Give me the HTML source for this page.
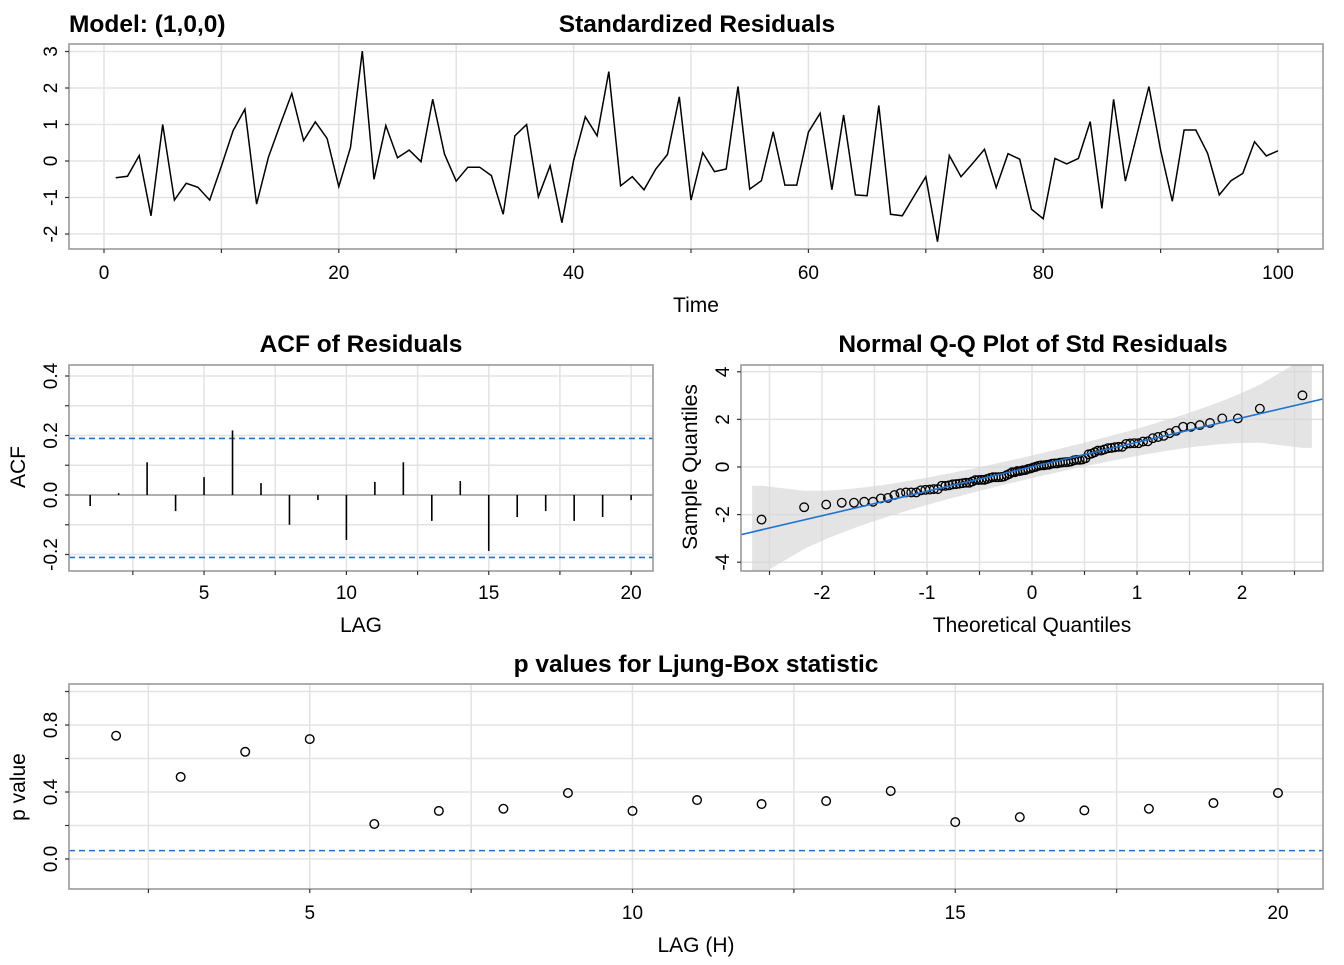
<!DOCTYPE html>
<html><head><meta charset="utf-8">
<style>
body{margin:0;background:#fff;}
svg text{font-family:"Liberation Sans",Arial,sans-serif;fill:#000;}
</style></head>
<body>
<svg id="chart" width="1344" height="960" viewBox="0 0 1344 960" xmlns="http://www.w3.org/2000/svg"></svg>
<script>
// ---- data ----
const residuals = [-0.46,-0.42,0.15,-1.5,1.0,-1.07,-0.61,-0.72,-1.07,-0.14,
0.83,1.42,-1.18,0.1,0.99,1.85,0.56,1.07,0.62,-0.7,
0.37,3.01,-0.5,0.97,0.09,0.3,-0.02,1.69,0.19,-0.55,
-0.17,-0.17,-0.4,-1.46,0.69,1.0,-0.98,-0.13,-1.69,0.01,
1.21,0.69,2.45,-0.68,-0.43,-0.79,-0.22,0.18,1.76,-1.07,
0.23,-0.29,-0.22,2.04,-0.77,-0.54,0.8,-0.66,-0.66,0.79,
1.31,-0.79,1.26,-0.93,-0.95,1.52,-1.46,-1.5,-0.96,-0.43,
-2.21,0.15,-0.43,-0.06,0.32,-0.73,0.2,0.05,-1.32,-1.58,
0.07,-0.08,0.07,1.08,-1.3,1.69,-0.55,0.74,2.04,0.3,
-1.1,0.85,0.85,0.21,-0.93,-0.54,-0.34,0.53,0.14,0.28];
const acfLags = [1,2,3,4,5,6,7,8,9,10,11,12,13,14,15,16,17,18,19,20];
const acfValues = [-0.037,0.006,0.11,-0.054,0.06,0.217,0.04,-0.10,-0.017,-0.151,0.044,0.11,-0.087,0.047,-0.188,-0.074,-0.054,-0.087,-0.074,-0.017];
const acfBounds = [0.19,-0.21];
const lbLags = [2,3,4,5,6,7,8,9,10,11,12,13,14,15,16,17,18,19,20];
const lbPValues = [0.736,0.49,0.64,0.716,0.209,0.287,0.30,0.394,0.287,0.352,0.328,0.346,0.406,0.22,0.25,0.29,0.30,0.334,0.394];
const lbAlpha = 0.05;
const timeTicks = [0,20,40,60,80,100];
const resTicks = [3,2,1,0,-1,-2];
const acfXTicks = [5,10,15,20];
const acfYTicks = [0.4,0.2,0.0,-0.2];
const qqXTicks = [-2,-1,0,1,2];
const qqYTicks = [4,2,0,-2,-4];
const lbXTicks = [5,10,15,20];
const lbYTicks = [0.8,0.4,0.0];

const NS="http://www.w3.org/2000/svg";
const svg=document.getElementById('chart');
const TICK=19, AXT=21, TTL=24.5;
function el(tag,attrs,parent){const e=document.createElementNS(NS,tag);for(const k in attrs)e.setAttribute(k,attrs[k]);(parent||svg).appendChild(e);return e;}
function txt(s,x,y,size,opts,parent){opts=opts||{};const t=el('text',{x:x,y:y,'font-size':size,'text-anchor':opts.anchor||'middle','font-weight':opts.bold?'bold':'normal'},parent);if(opts.rot)t.setAttribute('transform','rotate(-90 '+x+' '+y+')');t.textContent=s;return t;}
const GRID='#e3e3e3';

function panel(name,x0,y0,x1,y1){
  const g=el('g',{});
  
  
  const cid='clip-'+name;
  const cp=el('clipPath',{id:cid},g);el('rect',{x:x0,y:y0,width:x1-x0,height:y1-y0},cp);
  const inner=el('g',{'clip-path':'url(#'+cid+')'},g);
  return {g,inner,x0,y0,x1,y1};
}
function border(p){const r=el('rect',{x:p.x0,y:p.y0,width:p.x1-p.x0,height:p.y1-p.y0,fill:'none',stroke:'#999',"stroke-width":1.6},p.g);}
function vgrid(p,xs,sx){xs.forEach(v=>el('line',{x1:sx(v),x2:sx(v),y1:p.y0,y2:p.y1,stroke:GRID,'stroke-width':1.5},p.inner));}
function hgrid(p,ys,sy){ys.forEach(v=>el('line',{y1:sy(v),y2:sy(v),x1:p.x0,x2:p.x1,stroke:GRID,'stroke-width':1.5},p.inner));}
function xticks(p,vals,sx,ly,fmt,minor){
  const g=el('g',{},p.g);
  (minor||[]).forEach(v=>el('line',{x1:sx(v),x2:sx(v),y1:p.y1,y2:p.y1+4,stroke:'#333','stroke-width':1.2},g));
  vals.forEach(v=>{el('line',{x1:sx(v),x2:sx(v),y1:p.y1,y2:p.y1+4,stroke:'#333','stroke-width':1.2},g);txt(fmt?fmt(v):String(v),sx(v),ly,TICK,{},g);});
}
function yticks(p,vals,sy,lx,fmt,minor){
  const g=el('g',{},p.g);
  (minor||[]).forEach(v=>el('line',{y1:sy(v),y2:sy(v),x1:p.x0-4,x2:p.x0,stroke:'#333','stroke-width':1.2},g));
  vals.forEach(v=>{el('line',{y1:sy(v),y2:sy(v),x1:p.x0-4,x2:p.x0,stroke:'#333','stroke-width':1.2},g);txt(fmt?fmt(v):String(v),lx,sy(v),TICK,{rot:true},g);});
}
function range(a,b,s){const r=[];for(let v=a;v<=b+1e-9;v+=s)r.push(Math.round(v*1000)/1000);return r;}

// ---- Titles ----
let t=txt('Model: (1,0,0)',69,32,TTL,{anchor:'start',bold:true});
t=txt('Standardized Residuals',697,32,TTL,{bold:true});
t=txt('ACF of Residuals',361,352,TTL,{bold:true});
t=txt('Normal Q-Q Plot of Std Residuals',1033,352,TTL,{bold:true});
t=txt('p values for Ljung-Box statistic',696,672,TTL,{bold:true});

// ---- Panel 1: residuals ----
(function(){
  const p=panel('residuals-panel',69,44,1323,249);
  const sx=v=>104+v*11.74, sy=v=>161-v*36.5;
  vgrid(p,range(0,110,10),sx);hgrid(p,range(-2,3,1),sy);
  const pts=residuals.map((v,i)=>sx(i+1).toFixed(1)+','+sy(v).toFixed(1)).join(' ');
  const l=el('polyline',{points:pts,fill:'none',stroke:'#000','stroke-width':1.5},p.inner);
  
  border(p);
  xticks(p,timeTicks,sx,279,null,[10,30,50,70,90]);
  yticks(p,resTicks,sy,57);
  t=txt('Time',696,312,AXT);
})();

// ---- Panel 2: ACF ----
(function(){
  const p=panel('acf-panel',69,365,653,571);
  const sx=v=>61.7+v*28.47, sy=v=>495-v*297.5;
  vgrid(p,range(2.5,20,2.5),sx);hgrid(p,range(-0.2,0.4,0.1),sy);
  el('line',{x1:p.x0,x2:p.x1,y1:sy(0),y2:sy(0),stroke:'#999','stroke-width':1.6},p.inner);
  acfBounds.forEach(b=>{const d=el('line',{x1:p.x0,x2:p.x1,y1:sy(b),y2:sy(b),stroke:'#1e73d2','stroke-width':1.6,'stroke-dasharray':'6,4'},p.inner);});
  acfLags.forEach((lag,i)=>{const b=el('line',{x1:sx(lag),x2:sx(lag),y1:sy(0),y2:sy(acfValues[i]),stroke:'#000','stroke-width':1.6},p.inner);});
  border(p);
  xticks(p,acfXTicks,sx,599,null,[2.5,7.5,12.5,17.5]);
  yticks(p,acfYTicks,sy,57,v=>v.toFixed(1),[0.3,0.1,-0.1]);
  t=txt('LAG',361,632,AXT);
  t=txt('ACF',25,467,AXT,{rot:true});
})();

// ---- Panel 3: QQ ----
function qnorm(p){const a=[-39.69683028665376,220.9460984245205,-275.9285104469687,138.357751867269,-30.66479806614716,2.506628277459239],b=[-54.47609879822406,161.5858368580409,-155.6989798598866,66.80131188771972,-13.28068155288572],c=[-0.007784894002430293,-0.3223964580411365,-2.400758277161838,-2.549732539343734,4.374664141464968,2.938163982698783],d=[0.007784695709041462,0.3224671290700398,2.445134137142996,3.754408661907416];const pl=0.02425;let q,r;if(p<pl){q=Math.sqrt(-2*Math.log(p));return(((((c[0]*q+c[1])*q+c[2])*q+c[3])*q+c[4])*q+c[5])/((((d[0]*q+d[1])*q+d[2])*q+d[3])*q+1);}if(p>1-pl){q=Math.sqrt(-2*Math.log(1-p));return-(((((c[0]*q+c[1])*q+c[2])*q+c[3])*q+c[4])*q+c[5])/((((d[0]*q+d[1])*q+d[2])*q+d[3])*q+1);}q=p-0.5;r=q*q;return(((((a[0]*r+a[1])*r+a[2])*r+a[3])*r+a[4])*r+a[5])*q/(((((b[0]*r+b[1])*r+b[2])*r+b[3])*r+b[4])*r+1);}
(function(){
  const p=panel('qq-panel',741,365,1323,571);
  const sx=v=>1032+v*105, sy=v=>467-v*23.8;
  vgrid(p,range(-2.5,2.5,0.5),sx);hgrid(p,[-4,-2,0,2,4],sy);
  const n=residuals.length;
  const sorted=residuals.slice().sort((a,b)=>a-b);
  const theo=sorted.map((v,i)=>qnorm((i+0.5)/n));
  const qs=(arr,pr)=>{const h=(arr.length-1)*pr,lo=Math.floor(h);return arr[lo]+(h-lo)*(arr[lo+1]-arr[lo]);};
  const y1=qs(sorted,0.25),y2=qs(sorted,0.75),x1=qnorm(0.25),x2=qnorm(0.75);
  const slope=(y2-y1)/(x2-x1),icpt=y1-slope*x1;
  const up=[],dn=[];
  theo.forEach((q,i)=>{const pp=(i+0.5)/n;const dn_=Math.exp(-q*q/2)/Math.sqrt(2*Math.PI);const se=slope/dn_*Math.sqrt(pp*(1-pp)/n)*3.7;const c=icpt+slope*q;up.push([q,c+se]);dn.push([q,c-se]);});
  const ext=0.09;
  const ptsB=[[up[0][0]-ext,up[0][1]]].concat(up,[[up[n-1][0]+ext,up[n-1][1]],[dn[n-1][0]+ext,dn[n-1][1]]],dn.slice().reverse(),[[dn[0][0]-ext,dn[0][1]]]);
  const band=el('polygon',{points:ptsB.map(q=>sx(q[0]).toFixed(1)+','+sy(q[1]).toFixed(1)).join(' '),fill:'#d6d6d6','fill-opacity':0.65},p.inner);
  
  sorted.forEach((v,i)=>{const c=el('circle',{cx:sx(theo[i]),cy:sy(v),r:4.3,fill:'none',stroke:'#000','stroke-width':1.3},p.inner);});
  const ln=el('line',{x1:sx(-3),y1:sy(icpt-3*slope),x2:sx(3),y2:sy(icpt+3*slope),stroke:'#1e73d2','stroke-width':1.6},p.inner);
  
  border(p);
  xticks(p,qqXTicks,sx,599,null,[-2.5,-1.5,-0.5,0.5,1.5,2.5]);
  yticks(p,qqYTicks,sy,729);
  t=txt('Theoretical Quantiles',1032,632,AXT);
  t=txt('Sample Quantiles',697,467,AXT,{rot:true});
})();

// ---- Panel 4: Ljung-Box ----
(function(){
  const p=panel('ljung-box-panel',69,684,1323,889);
  const sx=v=>-13+v*64.55, sy=v=>859-v*167.5;
  vgrid(p,range(2.5,20,2.5),sx);hgrid(p,range(0,1,0.2),sy);
  const d=el('line',{x1:p.x0,x2:p.x1,y1:sy(lbAlpha),y2:sy(lbAlpha),stroke:'#1e73d2','stroke-width':1.6,'stroke-dasharray':'6,4'},p.inner);
  
  lbLags.forEach((lag,i)=>{const c=el('circle',{cx:sx(lag),cy:sy(lbPValues[i]),r:4.3,fill:'none',stroke:'#000','stroke-width':1.4},p.inner);});
  border(p);
  xticks(p,lbXTicks,sx,919,null,[2.5,7.5,12.5,17.5]);
  yticks(p,lbYTicks,sy,57,v=>v.toFixed(1),[1.0,0.6,0.2]);
  t=txt('LAG (H)',696,952,AXT);
  t=txt('p value',25,787,AXT,{rot:true});
})();
</script>
</body></html>
